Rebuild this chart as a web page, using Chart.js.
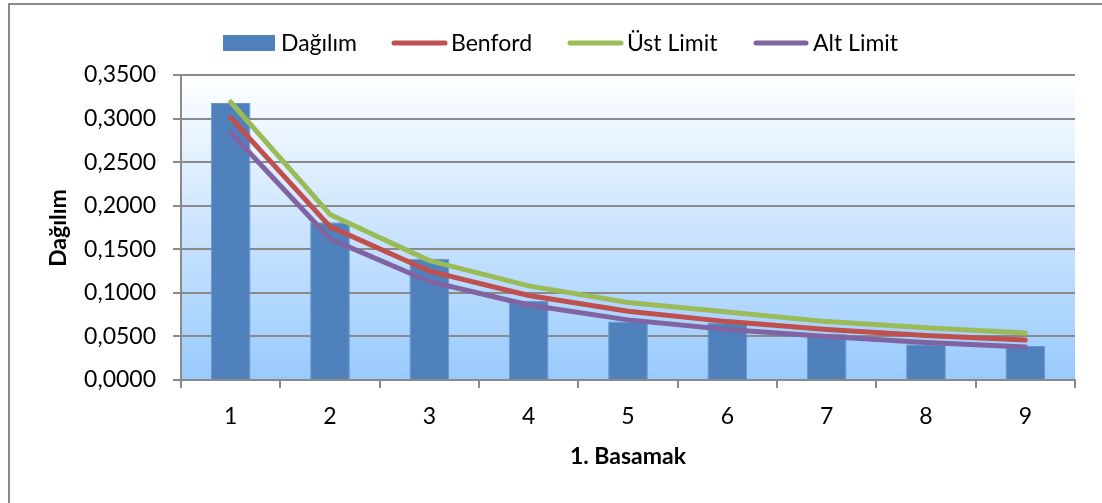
<!DOCTYPE html>
<html>
<head>
<meta charset="utf-8">
<script src="https://cdn.jsdelivr.net/npm/chart.js@4.4.1/dist/chart.umd.min.js"></script>
<style>
  html, body { margin: 0; padding: 0; background: #ffffff; }
  #wrap { position: relative; width: 1102px; height: 503px; }
</style>
</head>
<body>
<div id="wrap"><canvas id="c" width="1102" height="503"></canvas></div>
<script>
// First-digit categories
const digits = ['1', '2', '3', '4', '5', '6', '7', '8', '9'];
// Observed first-digit distribution
const dagilim = [0.318, 0.181, 0.139, 0.091, 0.067, 0.066, 0.053, 0.041, 0.039];
// Benford expected proportions
const benford = [0.301, 0.176, 0.125, 0.097, 0.079, 0.067, 0.058, 0.051, 0.046];
// Upper and lower limits
const ustLimit = [0.319, 0.190, 0.137, 0.108, 0.089, 0.078, 0.067, 0.060, 0.054];
const altLimit = [0.284, 0.162, 0.113, 0.086, 0.069, 0.058, 0.050, 0.043, 0.038];
// Y axis range
const yMin = 0, yMax = 0.35, yStep = 0.05;

const FONT = 'Lato, "Liberation Sans", sans-serif';
const GRID = '#8a8a8a';

// Plot background gradient, outer frame, legend and axis titles
const decor = {
  id: 'decor',
  beforeDraw(chart) {
    const { ctx, chartArea: a } = chart;
    ctx.save();
    ctx.fillStyle = '#ffffff';
    ctx.fillRect(0, 0, chart.width, chart.height);
    const g = ctx.createLinearGradient(0, a.top, 0, a.bottom);
    g.addColorStop(0, '#ffffff');
    g.addColorStop(1, '#98cafd');
    ctx.fillStyle = g;
    ctx.fillRect(a.left, a.top, a.right - a.left, a.bottom - a.top);
    ctx.strokeStyle = GRID;
    ctx.lineWidth = 2;
    ctx.strokeRect(9, 4, chart.width + 40, chart.height + 40);
    ctx.restore();
  },
  afterDraw(chart) {
    const { ctx } = chart;
    ctx.save();
    // legend
    const ds = chart.data.datasets;
    const items = [
      { i: 0, x0: 223, x1: 275, tx: 281 },
      { i: 1, x0: 392, x1: 447, tx: 451 },
      { i: 2, x0: 568, x1: 623, tx: 627 },
      { i: 3, x0: 754, x1: 808, tx: 813 }
    ];
    const ly = 43;
    ctx.font = '23px ' + FONT;
    ctx.textBaseline = 'middle';
    ctx.textAlign = 'left';
    items.forEach(it => {
      const d = ds[it.i];
      if (d.type === 'bar') {
        ctx.fillStyle = d.backgroundColor;
        ctx.fillRect(it.x0, ly - 8, it.x1 - it.x0, 16);
      } else {
        ctx.strokeStyle = d.borderColor;
        ctx.lineWidth = 5;
        ctx.lineCap = 'round';
        ctx.beginPath();
        ctx.moveTo(it.x0 + 2, ly);
        ctx.lineTo(it.x1 - 2, ly);
        ctx.stroke();
      }
      ctx.fillStyle = '#000000';
      ctx.fillText(d.label, it.tx, ly + 1);
    });
    // axis titles
    ctx.font = 'bold 23px ' + FONT;
    ctx.textAlign = 'center';
    ctx.fillText('1. Basamak', 628, 457);
    ctx.translate(59, 228);
    ctx.rotate(-Math.PI / 2);
    ctx.fillText('Dağılım', 0, 0);
    ctx.restore();
  }
};

new Chart(document.getElementById('c'), {
  data: {
    labels: digits,
    datasets: [
      { type: 'bar', label: 'Dağılım', data: dagilim, backgroundColor: '#4f81bd',
        borderColor: '#6a96cc', borderWidth: 1, barPercentage: 0.4, categoryPercentage: 1, order: 4 },
      { type: 'line', label: 'Benford', data: benford, borderColor: '#c0504d', borderWidth: 5,
        pointRadius: 0, tension: 0, borderCapStyle: 'round', borderJoinStyle: 'round', order: 3 },
      { type: 'line', label: 'Üst Limit', data: ustLimit, borderColor: '#9bbb59', borderWidth: 5,
        pointRadius: 0, tension: 0, borderCapStyle: 'round', borderJoinStyle: 'round', order: 2 },
      { type: 'line', label: 'Alt Limit', data: altLimit, borderColor: '#8064a2', borderWidth: 5,
        pointRadius: 0, tension: 0, borderCapStyle: 'round', borderJoinStyle: 'round', order: 1 }
    ]
  },
  options: {
    responsive: false,
    animation: false,
    devicePixelRatio: 1,
    layout: { padding: { top: 75, right: 27, left: 0, bottom: 0 } },
    plugins: { legend: { display: false }, tooltip: { enabled: false } },
    scales: {
      x: {
        offset: true,
        grid: { display: true, drawOnChartArea: false, drawTicks: true, tickLength: 8, color: GRID, lineWidth: 2, offset: true },
        border: { display: true, color: GRID, width: 2 },
        ticks: { color: '#000000', font: { family: FONT, size: 23 }, padding: 15, maxRotation: 0 },
        afterFit(s) { s.height = 123; }
      },
      y: {
        min: yMin, max: yMax,
        grid: { color: GRID, lineWidth: 2, tickLength: 8 },
        border: { display: true, color: GRID, width: 2 },
        ticks: {
          stepSize: yStep,
          color: '#000000',
          font: { family: FONT, size: 23 },
          padding: 17,
          callback: v => v.toFixed(4).replace('.', ',')
        },
        afterFit(s) { s.width = 181; }
      }
    }
  },
  plugins: [decor]
});
</script>
</body>
</html>
